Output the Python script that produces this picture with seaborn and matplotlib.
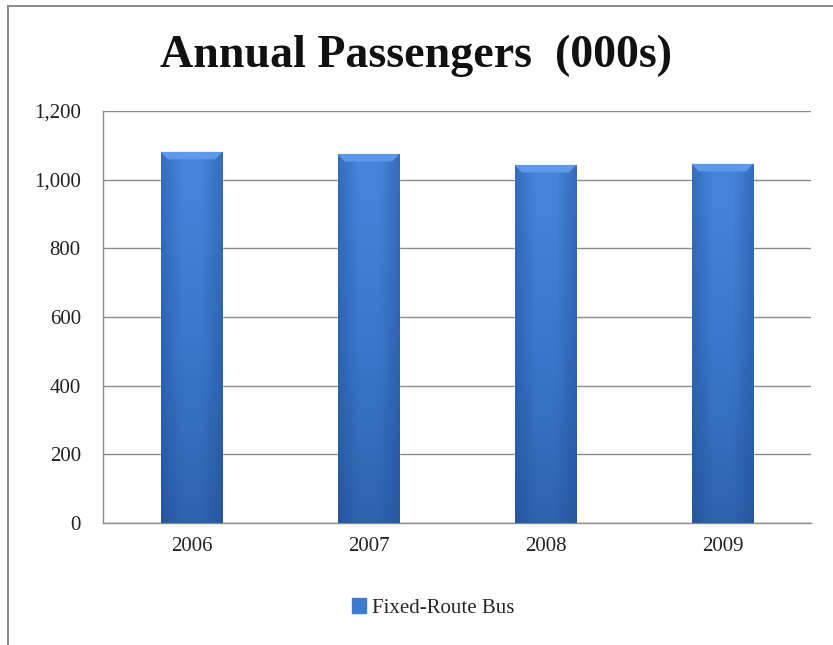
import matplotlib
matplotlib.use("Agg")
import matplotlib.pyplot as plt
import seaborn as sns
import numpy as np
import pandas as pd
from matplotlib.ticker import FuncFormatter
from matplotlib.patches import Rectangle, Polygon
from matplotlib.colors import LinearSegmentedColormap

# --------------------------------------------------
# Data
# --------------------------------------------------
years = ["2006", "2007", "2008", "2009"]
passengers = [1081, 1075, 1043, 1046]
series_name = "Fixed-Route Bus"

df = pd.DataFrame({"year": years, "passengers": passengers, "mode": series_name})

# --------------------------------------------------
# Plot
# --------------------------------------------------
sns.set_theme(style="white")
plt.rcParams["font.family"] = ["Liberation Serif", "DejaVu Serif"]

fig = plt.figure(figsize=(8.33, 6.45), dpi=100)
ax = fig.add_axes([103 / 833, 1 - 523 / 645, (811 - 103) / 833, (523 - 111) / 645])

base = "#3b7bd0"
sns.barplot(data=df, x="year", y="passengers", color=base, width=0.35,
            saturation=1, ax=ax, zorder=3)

# shading on each bar: lighter at top, darker toward bottom, soft darker sides
vert_cm = LinearSegmentedColormap.from_list("v", ["#2e64ae", "#3a78cc", "#4586dc"])
side_cm = LinearSegmentedColormap.from_list(
    "s", [(0.1, 0.25, 0.5, 0.35), (0.1, 0.25, 0.5, 0.0), (0.1, 0.25, 0.5, 0.0),
          (0.1, 0.25, 0.5, 0.35)])
vert = np.linspace(0, 1, 128).reshape(-1, 1)
horiz = np.linspace(0, 1, 64).reshape(1, -1)
for p in list(ax.patches):
    x0, y0 = p.get_x(), p.get_y()
    w, h = p.get_width(), p.get_height()
    im = ax.imshow(vert, extent=[x0, x0 + w, y0, y0 + h], aspect="auto",
                   cmap=vert_cm, zorder=4, origin="lower")
    im.set_clip_path(p)
    im2 = ax.imshow(horiz, extent=[x0, x0 + w, y0, y0 + h], aspect="auto",
                    cmap=side_cm, zorder=5)
    im2.set_clip_path(p)
    # bevel on top
    bev = 22
    ax.add_patch(Polygon([(x0, y0 + h), (x0 + w, y0 + h),
                          (x0 + w * 0.88, y0 + h - bev), (x0 + w * 0.12, y0 + h - bev)],
                         closed=True, color="#5c99e8", lw=0, zorder=6))

ax.set_xlim(-0.5, len(years) - 0.5)
ax.set_ylim(0, 1200)
ax.set_yticks(range(0, 1201, 200))
ax.yaxis.set_major_formatter(FuncFormatter(lambda v, _: f"{int(v):,}"))
ax.set_xlabel("")
ax.set_ylabel("")

ax.grid(axis="y", color="#8c8c8c", lw=1, zorder=0)
for s in ["top", "right"]:
    ax.spines[s].set_visible(False)
for s in ["left", "bottom"]:
    ax.spines[s].set_color("#8c8c8c")
    ax.spines[s].set_linewidth(1)
ax.tick_params(axis="y", length=0, labelsize=15, labelcolor="#222222", pad=16)
ax.tick_params(axis="x", length=0, labelsize=15, labelcolor="#222222", pad=10)

fig.text(0.5, 1 - 56 / 645, "Annual Passengers  (000s)", ha="center", va="center",
         fontsize=33, fontweight="bold", color="#111111")

# legend
handle = Rectangle((0, 0), 1, 1, color=base)
fig.legend([handle], [series_name], loc="center", bbox_to_anchor=(0.52, 1 - 608 / 645),
           frameon=False, fontsize=15, handlelength=0.7, handleheight=0.7,
           handletextpad=0.3)

# chart frame (left and top edges)
fig.add_artist(plt.Line2D([8 / 833, 8 / 833], [0, 1 - 6 / 645], color="#8c8c8c",
                          lw=1.5, transform=fig.transFigure))
fig.add_artist(plt.Line2D([8 / 833, 1], [1 - 6 / 645, 1 - 6 / 645], color="#8c8c8c",
                          lw=1.5, transform=fig.transFigure))

fig.savefig("out.png", dpi=100)
plt.close(fig)
